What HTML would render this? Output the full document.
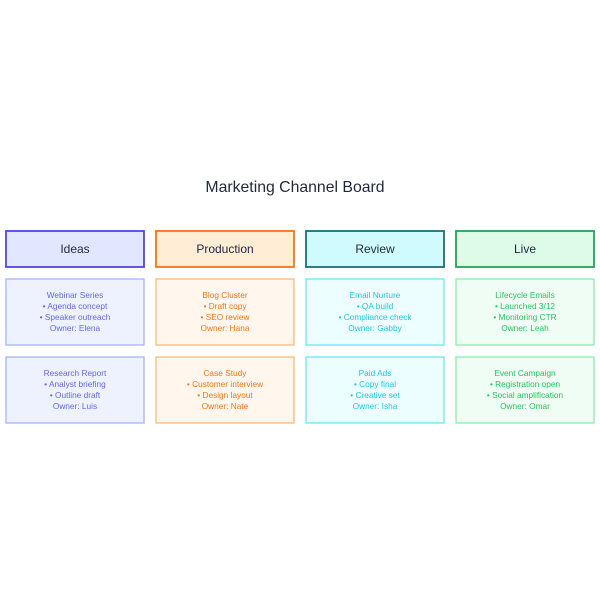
<!DOCTYPE html>
<html><head><meta charset="utf-8"><style>
html,body{margin:0;padding:0;background:#fff;width:600px;height:600px;overflow:hidden}
text{font-family:"Liberation Sans",sans-serif}
</style></head><body>
<svg width="600" height="600" viewBox="0 0 600 600" xmlns="http://www.w3.org/2000/svg">
<text x="295" y="192" text-anchor="middle" font-size="15.8" fill="#1e293b">Marketing Channel Board</text>
<g stroke-width="1.8">
<rect x="6" y="231" width="138" height="36" fill="#e0e7ff" stroke="#4f46e5"/>
<rect x="156" y="231" width="138" height="36" fill="#ffedd5" stroke="#f97316"/>
<rect x="306" y="231" width="138" height="36" fill="#cffafe" stroke="#1e6b80"/>
<rect x="456" y="231" width="138" height="36" fill="#dcfce7" stroke="#22a355"/>
</g>
<g font-size="12" fill="#1e293b" text-anchor="middle">
<text x="75" y="253">Ideas</text><text x="225" y="253">Production</text>
<text x="375" y="253">Review</text><text x="525" y="253">Live</text>
</g>
<g stroke-width="1.3">
<rect x="6" y="279" width="138" height="66" fill="#eef2ff" stroke="#a5b4fc"/>
<rect x="6" y="357" width="138" height="66" fill="#eef2ff" stroke="#a5b4fc"/>
<rect x="156" y="279" width="138" height="66" fill="#fff7ed" stroke="#fdba74"/>
<rect x="156" y="357" width="138" height="66" fill="#fff7ed" stroke="#fdba74"/>
<rect x="306" y="279" width="138" height="66" fill="#ecfeff" stroke="#67e8f9"/>
<rect x="306" y="357" width="138" height="66" fill="#ecfeff" stroke="#67e8f9"/>
<rect x="456" y="279" width="138" height="66" fill="#f0fdf4" stroke="#86efac"/>
<rect x="456" y="357" width="138" height="66" fill="#f0fdf4" stroke="#86efac"/>
</g>
<g font-size="8.3" text-anchor="middle">
<g fill="#6366f1">
<text x="75" y="298">Webinar Series</text><text x="75" y="309">• Agenda concept</text><text x="75" y="320">• Speaker outreach</text><text x="75" y="331">Owner: Elena</text>
<text x="75" y="376">Research Report</text><text x="75" y="387">• Analyst briefing</text><text x="75" y="398">• Outline draft</text><text x="75" y="409">Owner: Luis</text>
</g>
<g fill="#f97316">
<text x="225" y="298">Blog Cluster</text><text x="225" y="309">• Draft copy</text><text x="225" y="320">• SEO review</text><text x="225" y="331">Owner: Hana</text>
<text x="225" y="376">Case Study</text><text x="225" y="387">• Customer interview</text><text x="225" y="398">• Design layout</text><text x="225" y="409">Owner: Nate</text>
</g>
<g fill="#22c5e0">
<text x="375" y="298">Email Nurture</text><text x="375" y="309">• QA build</text><text x="375" y="320">• Compliance check</text><text x="375" y="331">Owner: Gabby</text>
<text x="375" y="376">Paid Ads</text><text x="375" y="387">• Copy final</text><text x="375" y="398">• Creative set</text><text x="375" y="409">Owner: Isha</text>
</g>
<g fill="#22c55e">
<text x="525" y="298">Lifecycle Emails</text><text x="525" y="309">• Launched 3/12</text><text x="525" y="320">• Monitoring CTR</text><text x="525" y="331">Owner: Leah</text>
<text x="525" y="376">Event Campaign</text><text x="525" y="387">• Registration open</text><text x="525" y="398">• Social amplification</text><text x="525" y="409">Owner: Omar</text>
</g>
</g>
</svg>
</body></html>
